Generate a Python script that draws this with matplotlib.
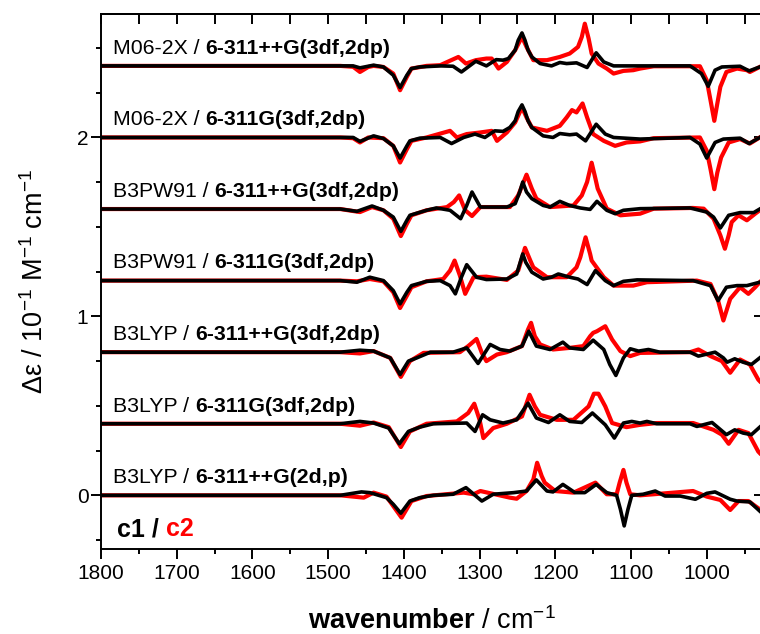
import numpy as np
import matplotlib
matplotlib.use('Agg')
import matplotlib.pyplot as plt
from matplotlib.ticker import MultipleLocator, FixedLocator

plt.rcParams['font.family'] = ['Liberation Sans', 'DejaVu Sans']
plt.rcParams['mathtext.fontset'] = 'custom'
plt.rcParams['mathtext.rm'] = 'Liberation Sans'
plt.rcParams['mathtext.it'] = 'Liberation Sans:italic'
plt.rcParams['mathtext.bf'] = 'Liberation Sans:bold'

# Level of theory for each trace, bottom to top
methods = ['B3LYP', 'B3LYP', 'B3LYP', 'B3PW91', 'B3PW91', 'M06-2X', 'M06-2X']
basis_sets = ['6-311++G(2d,p)', '6-311G(3df,2dp)', '6-311++G(3df,2dp)',
              '6-311G(3df,2dp)', '6-311++G(3df,2dp)', '6-311G(3df,2dp)',
              '6-311++G(3df,2dp)']
offsets = [0.0, 0.4, 0.8, 1.2, 1.6, 2.0, 2.4]

# Spectra: wavenumber (cm-1) and delta epsilon (10^-1 M-1 cm-1)
# M06-2X / 6-311++G(3df,2dp)
m06_pp_c1_x = [1800, 1484, 1467, 1458, 1440, 1427, 1414, 1405, 1396, 1390, 1379, 1352, 1335, 1324, 1305, 1291, 1278, 1269, 1262, 1253, 1249, 1244, 1240, 1236, 1231, 1220, 1205, 1194, 1185, 1172, 1158, 1146, 1136, 1123, 1022, 1007, 998, 989, 980, 956, 944, 930]
m06_pp_c1_y = [0, 0, 0, -0.011, 0.004, -0.006, -0.052, -0.121, -0.052, -0.015, -0.006, 0, -0.002, -0.034, 0.026, 0, 0.035, 0.032, 0.041, 0.088, 0.143, 0.184, 0.143, 0.088, 0.050, 0.013, 0, 0.019, 0.013, 0.017, -0.009, 0.073, 0.022, 0, 0, -0.043, -0.114, -0.024, -0.006, -0.002, -0.028, -0.006]
m06_pp_c2_x = [1800, 1484, 1467, 1458, 1447, 1440, 1427, 1414, 1405, 1396, 1390, 1370, 1352, 1328, 1318, 1305, 1291, 1284, 1275, 1264, 1253, 1244, 1238, 1229, 1211, 1194, 1181, 1170, 1165, 1161, 1156, 1152, 1143, 1132, 1123, 1110, 1097, 1088, 1070, 1009, 1000, 995, 990, 986, 982, 974, 960, 947, 943, 930]
m06_pp_c2_y = [0, 0, -0.005, -0.034, -0.006, 0, -0.006, -0.043, -0.136, -0.061, -0.015, 0, 0.004, 0.050, 0.013, 0.032, 0.041, 0.041, -0.015, 0.022, 0.088, 0.162, 0.106, 0.032, 0.032, 0.050, 0.069, 0.106, 0.162, 0.236, 0.153, 0.069, 0.013, -0.015, -0.043, -0.028, -0.024, -0.015, -0.002, -0.002, -0.080, -0.192, -0.307, -0.210, -0.117, -0.034, -0.015, -0.024, -0.034, -0.006]

# M06-2X / 6-311G(3df,2dp)
m06_c1_x = [1800, 1484, 1467, 1458, 1440, 1427, 1414, 1405, 1396, 1392, 1379, 1352, 1337, 1321, 1306, 1293, 1280, 1269, 1260, 1253, 1249, 1244, 1240, 1236, 1231, 1216, 1203, 1194, 1181, 1172, 1160, 1146, 1134, 1123, 1088, 1022, 1009, 1000, 989, 978, 956, 944, 930]
m06_c1_y = [0, 0, 0, -0.022, 0.009, -0.006, -0.047, -0.115, -0.047, -0.019, -0.004, 0, -0.034, 0, 0.019, 0, 0.037, 0.034, 0.056, 0.093, 0.145, 0.182, 0.145, 0.093, 0.056, 0.009, 0, 0.022, 0.015, 0.019, -0.019, 0.074, 0.019, 0, -0.009, 0, -0.037, -0.115, -0.028, -0.009, -0.004, -0.034, 0]
m06_c2_x = [1800, 1484, 1467, 1458, 1447, 1427, 1414, 1405, 1396, 1390, 1370, 1339, 1330, 1317, 1299, 1284, 1277, 1264, 1253, 1244, 1238, 1231, 1211, 1194, 1185, 1178, 1172, 1164, 1158, 1150, 1136, 1121, 1106, 1088, 1070, 1009, 1000, 995, 990, 986, 981, 971, 956, 943, 930]
m06_c2_y = [0, 0, -0.004, -0.028, 0, -0.004, -0.047, -0.140, -0.065, -0.019, 0, 0.037, 0, 0.019, 0.028, 0.037, -0.019, 0.028, 0.084, 0.168, 0.112, 0.056, 0.037, 0.065, 0.112, 0.153, 0.140, 0.190, 0.112, 0.019, -0.019, -0.047, -0.028, -0.022, -0.004, 0, -0.074, -0.177, -0.289, -0.196, -0.112, -0.028, -0.009, -0.034, 0]

# B3PW91 / 6-311++G(3df,2dp)
b3pw_pp_c1_x = [1800, 1484, 1462, 1442, 1427, 1414, 1404, 1396, 1392, 1370, 1357, 1339, 1325, 1317, 1310, 1299, 1264, 1253, 1247, 1243, 1238, 1231, 1216, 1207, 1194, 1181, 1167, 1154, 1145, 1132, 1121, 1110, 1088, 1022, 1000, 991, 982, 971, 956, 938, 930]
b3pw_pp_c1_y = [0, 0, -0.013, 0.017, -0.007, -0.045, -0.125, -0.063, -0.035, -0.007, 0.006, -0.007, -0.054, 0.020, 0.095, 0.011, 0.011, 0.030, 0.095, 0.151, 0.095, 0.058, 0.020, 0.011, 0.043, 0.020, 0.006, -0.002, 0.043, -0.007, -0.026, -0.007, 0.002, 0.006, -0.017, -0.045, -0.106, -0.035, -0.020, -0.020, 0]
b3pw_pp_c2_x = [1800, 1484, 1458, 1442, 1427, 1414, 1404, 1396, 1390, 1370, 1343, 1334, 1327, 1319, 1310, 1299, 1260, 1249, 1238, 1231, 1225, 1207, 1176, 1165, 1158, 1152, 1147, 1144, 1132, 1114, 1088, 1070, 1018, 1004, 991, 982, 976, 971, 967, 958, 947, 936, 930]
b3pw_pp_c2_y = [0, 0, -0.017, 0.011, -0.007, -0.054, -0.151, -0.082, -0.035, -0.007, 0.011, 0.039, 0.076, -0.007, -0.039, 0.011, 0.011, 0.076, 0.192, 0.114, 0.058, 0.011, 0.020, 0.076, 0.151, 0.259, 0.170, 0.114, 0.002, -0.035, -0.026, 0.002, 0.006, 0.002, -0.054, -0.147, -0.222, -0.147, -0.073, -0.035, -0.063, -0.026, -0.007]

# B3PW91 / 6-311G(3df,2dp)
b3pw_c1_x = [1800, 1484, 1462, 1445, 1427, 1414, 1405, 1396, 1390, 1370, 1352, 1339, 1332, 1324, 1317, 1304, 1291, 1264, 1251, 1247, 1243, 1239, 1231, 1216, 1205, 1196, 1181, 1170, 1158, 1147, 1134, 1123, 1110, 1092, 1018, 995, 985, 974, 960, 947, 930]
b3pw_c1_y = [0, 0, -0.009, 0.019, 0, -0.056, -0.130, -0.065, -0.028, -0.004, 0, -0.028, -0.074, 0.019, 0.089, 0.019, 0.006, 0.009, 0.037, 0.093, 0.149, 0.102, 0.047, 0.009, 0.019, 0.037, 0.019, 0.009, -0.022, 0.056, 0, -0.028, -0.004, 0.004, 0, -0.028, -0.112, -0.037, -0.028, -0.028, -0.009]
b3pw_c2_x = [1800, 1484, 1462, 1445, 1427, 1414, 1405, 1396, 1390, 1370, 1348, 1339, 1333, 1326, 1319, 1308, 1291, 1264, 1249, 1240, 1233, 1229, 1211, 1185, 1172, 1167, 1160, 1154, 1152, 1136, 1123, 1097, 1079, 1013, 995, 985, 978, 969, 956, 945, 936, 930]
b3pw_c2_y = [0, 0, -0.004, 0.009, -0.004, -0.065, -0.153, -0.084, -0.037, -0.004, 0.009, 0.056, 0.112, 0.028, -0.074, 0.019, 0.022, 0.004, 0.056, 0.183, 0.112, 0.074, 0.019, 0.019, 0.074, 0.130, 0.242, 0.149, 0.112, 0.019, -0.028, -0.028, -0.009, 0, -0.019, -0.112, -0.223, -0.102, -0.037, -0.074, -0.037, -0.009]

# B3LYP / 6-311++G(3df,2dp)
b3lyp_pp_c1_x = [1800, 1484, 1458, 1440, 1418, 1405, 1394, 1383, 1365, 1335, 1317, 1302, 1286, 1273, 1260, 1244, 1235, 1225, 1207, 1190, 1181, 1163, 1150, 1136, 1128, 1120, 1110, 1101, 1090, 1077, 1062, 1022, 1011, 989, 978, 973, 963, 952, 941, 930]
b3lyp_pp_c1_y = [0, 0, 0.011, 0.006, -0.032, -0.125, -0.050, -0.032, 0, 0, 0.024, -0.063, 0.043, 0.015, 0.006, 0.034, 0.117, 0.034, 0.015, 0.056, 0.024, 0.015, 0.067, 0.015, -0.069, -0.130, -0.032, 0.019, 0.006, 0.015, 0, 0, -0.022, 0, -0.032, -0.056, -0.037, -0.056, -0.069, -0.032]
b3lyp_pp_c2_x = [1800, 1484, 1458, 1440, 1418, 1404, 1392, 1374, 1326, 1315, 1304, 1297, 1291, 1277, 1264, 1244, 1236, 1232, 1227, 1220, 1203, 1181, 1163, 1154, 1150, 1145, 1134, 1125, 1114, 1101, 1088, 1022, 1011, 995, 980, 969, 956, 943, 932, 930]
b3lyp_pp_c2_y = [0, 0, -0.007, 0.006, -0.032, -0.138, -0.050, -0.004, 0, 0.034, 0.074, -0.004, -0.050, -0.013, 0, 0.034, 0.127, 0.164, 0.089, 0.043, 0.015, 0.024, 0.034, 0.089, 0.108, 0.117, 0.145, 0.071, 0.006, -0.022, -0.004, 0, 0.015, -0.022, -0.050, -0.115, -0.041, -0.069, -0.153, -0.162]

# B3LYP / 6-311G(3df,2dp)
b3lyp_c1_x = [1800, 1484, 1458, 1440, 1420, 1406, 1394, 1379, 1361, 1317, 1306, 1296, 1286, 1269, 1251, 1236, 1225, 1209, 1194, 1181, 1165, 1151, 1134, 1122, 1110, 1099, 1088, 1079, 1066, 1022, 1013, 993, 974, 963, 952, 941, 930]
b3lyp_c1_y = [0, 0, 0.013, 0.004, -0.024, -0.112, -0.043, -0.019, 0, 0.004, -0.043, 0.050, 0.022, 0.004, 0.022, 0.115, 0.032, 0.007, 0.050, 0.013, 0.007, 0.060, -0.006, -0.080, 0.004, 0.013, 0.004, 0.013, 0, 0, -0.015, 0.007, -0.061, -0.034, -0.052, -0.061, -0.019]
b3lyp_c2_x = [1800, 1484, 1458, 1440, 1420, 1404, 1392, 1370, 1330, 1315, 1307, 1300, 1295, 1282, 1264, 1244, 1234, 1227, 1220, 1198, 1176, 1156, 1149, 1143, 1134, 1125, 1106, 1088, 1066, 1018, 991, 980, 971, 958, 945, 932, 930]
b3lyp_c2_y = [0, 0, -0.011, 0.007, -0.019, -0.130, -0.043, 0, 0.013, 0.060, 0.112, 0.022, -0.080, -0.024, 0, 0.041, 0.162, 0.097, 0.050, 0.022, 0.022, 0.097, 0.168, 0.168, 0.097, 0.004, -0.019, -0.006, 0.004, 0.004, -0.034, -0.061, -0.112, -0.034, -0.052, -0.155, -0.164]

# B3LYP / 6-311++G(2d,p)
b3lyp_2d_c1_x = [1800, 1484, 1456, 1445, 1423, 1414, 1404, 1392, 1379, 1361, 1335, 1318, 1297, 1282, 1255, 1238, 1225, 1211, 1203, 1190, 1174, 1161, 1146, 1132, 1119, 1114, 1109, 1104, 1099, 1084, 1068, 1055, 1035, 1015, 1000, 989, 969, 960, 943, 930]
b3lyp_2d_c1_y = [0, 0, 0.019, 0.015, -0.013, -0.050, -0.100, -0.032, -0.013, 0, 0.006, 0.043, -0.032, 0.006, 0.015, 0.024, 0.086, 0.024, 0.019, 0.061, 0.015, 0.015, 0.061, 0.015, 0, -0.078, -0.171, -0.078, 0, 0.006, 0.024, -0.004, -0.004, -0.022, 0.011, 0.019, -0.022, -0.032, -0.037, -0.088]
b3lyp_2d_c2_x = [1800, 1484, 1453, 1440, 1423, 1414, 1403, 1390, 1370, 1321, 1308, 1299, 1260, 1251, 1238, 1229, 1224, 1218, 1214, 1200, 1176, 1147, 1132, 1119, 1115, 1110, 1106, 1101, 1088, 1070, 1018, 1000, 982, 969, 958, 945, 930]
b3lyp_2d_c2_y = [0, 0, -0.013, 0.015, -0.007, -0.060, -0.125, -0.032, -0.004, 0.015, 0.006, 0.024, -0.013, -0.019, 0.024, 0.089, 0.182, 0.108, 0.071, 0.024, 0.015, 0.071, 0.006, 0.006, 0.071, 0.142, 0.071, 0.006, 0, 0.006, 0.024, -0.007, -0.026, -0.082, -0.032, -0.032, -0.078]

c1_traces = [(b3lyp_2d_c1_x, b3lyp_2d_c1_y), (b3lyp_c1_x, b3lyp_c1_y),
             (b3lyp_pp_c1_x, b3lyp_pp_c1_y), (b3pw_c1_x, b3pw_c1_y),
             (b3pw_pp_c1_x, b3pw_pp_c1_y), (m06_c1_x, m06_c1_y),
             (m06_pp_c1_x, m06_pp_c1_y)]
c2_traces = [(b3lyp_2d_c2_x, b3lyp_2d_c2_y), (b3lyp_c2_x, b3lyp_c2_y),
             (b3lyp_pp_c2_x, b3lyp_pp_c2_y), (b3pw_c2_x, b3pw_c2_y),
             (b3pw_pp_c2_x, b3pw_pp_c2_y), (m06_c2_x, m06_c2_y),
             (m06_pp_c2_x, m06_pp_c2_y)]

fig = plt.figure(figsize=(7.6, 6.34), dpi=100)
ax = fig.add_axes([101 / 760, 85 / 634, 661 / 760, 535 / 634])

for (x2, y2), (x1, y1), off in zip(c2_traces, c1_traces, offsets):
    ax.plot(x2, np.array(y2) + off, color='#ff0000', lw=3.0,
            solid_joinstyle='round', zorder=2)
    ax.plot(x1, np.array(y1) + off, color='black', lw=2.6,
            solid_joinstyle='round', zorder=3)

# trace labels: functional in regular, basis set in bold
for method, basis, off in zip(methods, basis_sets, offsets):
    t = ax.text(1784, off + 0.068, method + ' / ', fontsize=15.3, va='baseline')
    ax.annotate(basis, xy=(1, 0), xycoords=t, va='bottom', ha='left',
                fontsize=15.3, fontweight='bold')

t = ax.text(1779, -0.229, 'c1 / ', fontsize=18, fontweight='bold', va='baseline')
ax.annotate('c2', xy=(1, 0), xycoords=t, va='bottom', ha='left',
            fontsize=18, fontweight='bold', color='#ff0000')

ax.set_xlim(1800, 927)
ax.set_ylim(-0.3, 2.69)

ax.xaxis.set_major_locator(MultipleLocator(100))
ax.xaxis.set_minor_locator(MultipleLocator(50))
ax.yaxis.set_major_locator(MultipleLocator(1))
ax.yaxis.set_minor_locator(MultipleLocator(0.25))

ax.tick_params(which='major', direction='out', length=7, width=1.4,
               labelsize=15, top=False, right=False)
ax.tick_params(which='minor', direction='out', length=3.5, width=1.4,
               top=False, right=False)
ax.tick_params(axis='x', pad=4)
ax.tick_params(axis='y', pad=2)

for sp in ax.spines.values():
    sp.set_linewidth(1.4)

top = ax.secondary_xaxis('top')
top.xaxis.set_major_locator(MultipleLocator(50))
top.tick_params(direction='in', length=7, width=1.4, labeltop=False)
top.spines['top'].set_linewidth(1.4)

right = ax.secondary_yaxis('right')
right.yaxis.set_major_locator(FixedLocator([0, 1, 2]))
right.tick_params(direction='in', length=6, width=1.4, labelright=False)

ax.set_xlabel(r'$\mathbf{wavenumber}$ / cm$^{-1}$', fontsize=19.5, labelpad=17)
ax.set_ylabel('Δε / 10$^{-1}$ M$^{-1}$ cm$^{-1}$', fontsize=19.5, labelpad=20)

fig.savefig('out.png', dpi=100)
